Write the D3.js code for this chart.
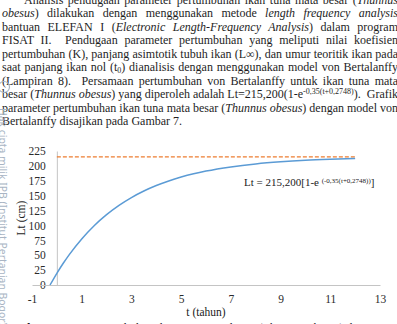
<!DOCTYPE html>
<html>
<head>
<meta charset="utf-8">
<script src="https://cdn.jsdelivr.net/npm/d3@7"></script>
<style>
  body { margin: 0; background: #fff; }
  #page { position: relative; width: 397px; height: 324px; overflow: hidden; background: #fff; }
  .line {
    position: absolute; left: 2px; width: 396px; height: 13.5px;
    font-family: "Liberation Serif", "Times New Roman", serif; font-size: 12px;
    line-height: 13.5px; color: #1e1e1e; white-space: nowrap;
    text-align: justify; text-align-last: justify;
  }
  .line.last { text-align-last: left; }
  .line small { font-size: 8px; line-height: 0; }
  #chart { position: absolute; left: 0; top: 0; }
</style>
</head>
<body>
<div id="page"></div>
<script>
// paragraph above the chart, one entry per printed line
const textLines = [
  "<span style='padding-left:22px'></span>Analisis pendugaan parameter pertumbuhan ikan tuna mata besar (<i>Thunnus</i>",
  "<i>obesus</i>) dilakukan dengan menggunakan metode <i>length frequency analysis</i>",
  "bantuan ELEFAN I (<i>Electronic Length-Frequency Analysis</i>) dalam program",
  "FISAT II.&nbsp; Pendugaan parameter pertumbuhan yang meliputi nilai koefisien",
  "pertumbuhan (K), panjang asimtotik tubuh ikan (L∞), dan umur teoritik ikan pada",
  "saat panjang ikan nol (t<small style='vertical-align:-2px'>0</small>) dianalisis dengan menggunakan model von Bertalanffy",
  "(Lampiran 8).&nbsp; Persamaan pertumbuhan von Bertalanffy untuk ikan tuna mata",
  "besar (<i>Thunnus obesus</i>) yang diperoleh adalah Lt=215,200(1-e<small style='vertical-align:4px'>-0,35(t+0,2748)</small>).&nbsp; Grafik",
  "parameter pertumbuhan ikan tuna mata besar (<i>Thunnus obesus</i>) dengan model von",
  "Bertalanffy disajikan pada Gambar 7."
];
const captionLine = "<b>Gambar 7</b> Kurva pertumbuhan ikan tuna mata besar (<i>Thunnus obesus</i>) dengan model von Bertalanffy";

// growth curve: age t (tahun) and length Lt (cm)
const tValues  = [-0.2748, 0, 0.25, 0.5, 1, 1.5, 2, 2.5, 3, 3.5, 4, 4.5, 5, 5.5, 6, 7, 8, 9, 10, 11, 12];
const ltValues = [0, 19.7, 36.1, 51.1, 77.4, 99.6, 118.1, 133.7, 146.8, 157.8, 167.0, 174.7, 181.2, 186.7, 191.3, 198.3, 203.3, 206.8, 209.3, 211.0, 212.3];
// asymptotic length L-infinity and the span it is drawn over
const lInf = 215.2;
const asymT = [0, 12];

const xTicks = [-1, 1, 3, 5, 7, 9, 11, 13];
const yTicks = [0, 25, 50, 75, 100, 125, 150, 175, 200, 225];

const page = d3.select("#page");

page.selectAll("div.line.par")
  .data(textLines)
  .join("div")
  .attr("class", (d, i) => i === textLines.length - 1 ? "line par last" : "line par")
  .style("top", (d, i) => (-6.3 + i * 13.5) + "px")
  .html(d => d);

// caption, only the top of it shows at the bottom edge
page.append("div")
  .attr("class", "line")
  .style("top", "322px")
  .html(captionLine);

const svg = page.append("svg")
  .attr("id", "chart")
  .attr("width", 397)
  .attr("height", 324);

const x = d3.scaleLinear([-1, 13], [32, 380]);
const y = d3.scaleLinear([0, 225], [285, 151]);

const serif = "'Liberation Serif', 'Times New Roman', serif";

// y axis sits on t = 0, labels pushed out to the left
const yAxis = svg.append("g")
  .attr("transform", `translate(${x(0)},0)`)
  .call(d3.axisLeft(y).tickValues(yTicks).tickFormat(d => String(d))
    .tickSize(0).tickSizeOuter(0).tickPadding(11));

const xAxis = svg.append("g")
  .attr("transform", `translate(0,${y(0)})`)
  .call(d3.axisBottom(x).tickValues(xTicks).tickFormat(d => String(d))
    .tickSize(0).tickSizeOuter(0).tickPadding(10));

[xAxis, yAxis].forEach(g => {
  g.attr("font-family", serif);
  g.select(".domain").attr("stroke", "#c4c4c4").attr("stroke-width", 1);
  g.selectAll("text")
    .style("font-family", serif)
    .style("font-size", "11.5px")
    .attr("fill", "#2a2a2a");
});

// dashed asymptote
svg.append("path")
  .attr("d", d3.line()(asymT.map(t => [x(t), y(lInf)])))
  .attr("fill", "none")
  .attr("stroke", "#ed7d31")
  .attr("stroke-width", 1.4)
  .attr("stroke-dasharray", "4,2");

// growth curve
svg.append("path")
  .datum(tValues.map((t, i) => [t, ltValues[i]]))
  .attr("d", d3.line().x(d => x(d[0])).y(d => y(d[1])).curve(d3.curveMonotoneX))
  .attr("fill", "none")
  .attr("stroke", "#5b9bd5")
  .attr("stroke-width", 1.5);

// equation label
const eq = svg.append("text")
  .attr("x", 244)
  .attr("y", 186)
  .style("font-family", serif)
  .style("font-size", "11px")
  .attr("fill", "#222");
eq.append("tspan").text("Lt = 215,200[1-e ");
eq.append("tspan").attr("dy", -3).style("font-size", "7px").text("(-0,35(t+0,2748))");
eq.append("tspan").attr("dy", 3).text("]");

// axis titles
svg.append("text")
  .attr("x", x(6))
  .attr("y", 316)
  .attr("text-anchor", "middle")
  .style("font-family", serif)
  .style("font-size", "11.5px")
  .attr("fill", "#222")
  .text("t (tahun)");

svg.append("text")
  .attr("transform", `translate(25,${(y(0) + y(225)) / 2}) rotate(-90)`)
  .attr("text-anchor", "middle")
  .style("font-family", serif)
  .style("font-size", "11.5px")
  .attr("fill", "#222")
  .text("Lt (cm)");

// library watermark down the left edge
svg.append("circle")
  .attr("cx", 4).attr("cy", 87).attr("r", 5.5)
  .attr("fill", "none").attr("stroke", "#aab6c4").attr("stroke-width", 1.2);

svg.append("text")
  .attr("transform", "translate(-1,108) rotate(90)")
  .style("font-family", "'Noto Sans', sans-serif")
  .style("font-size", "10.4px")
  .attr("fill", "#a9b5c4")
  .text("Hak cipta milik IPB (Institut Pertanian Bogor)");
</script>
</body>
</html>
